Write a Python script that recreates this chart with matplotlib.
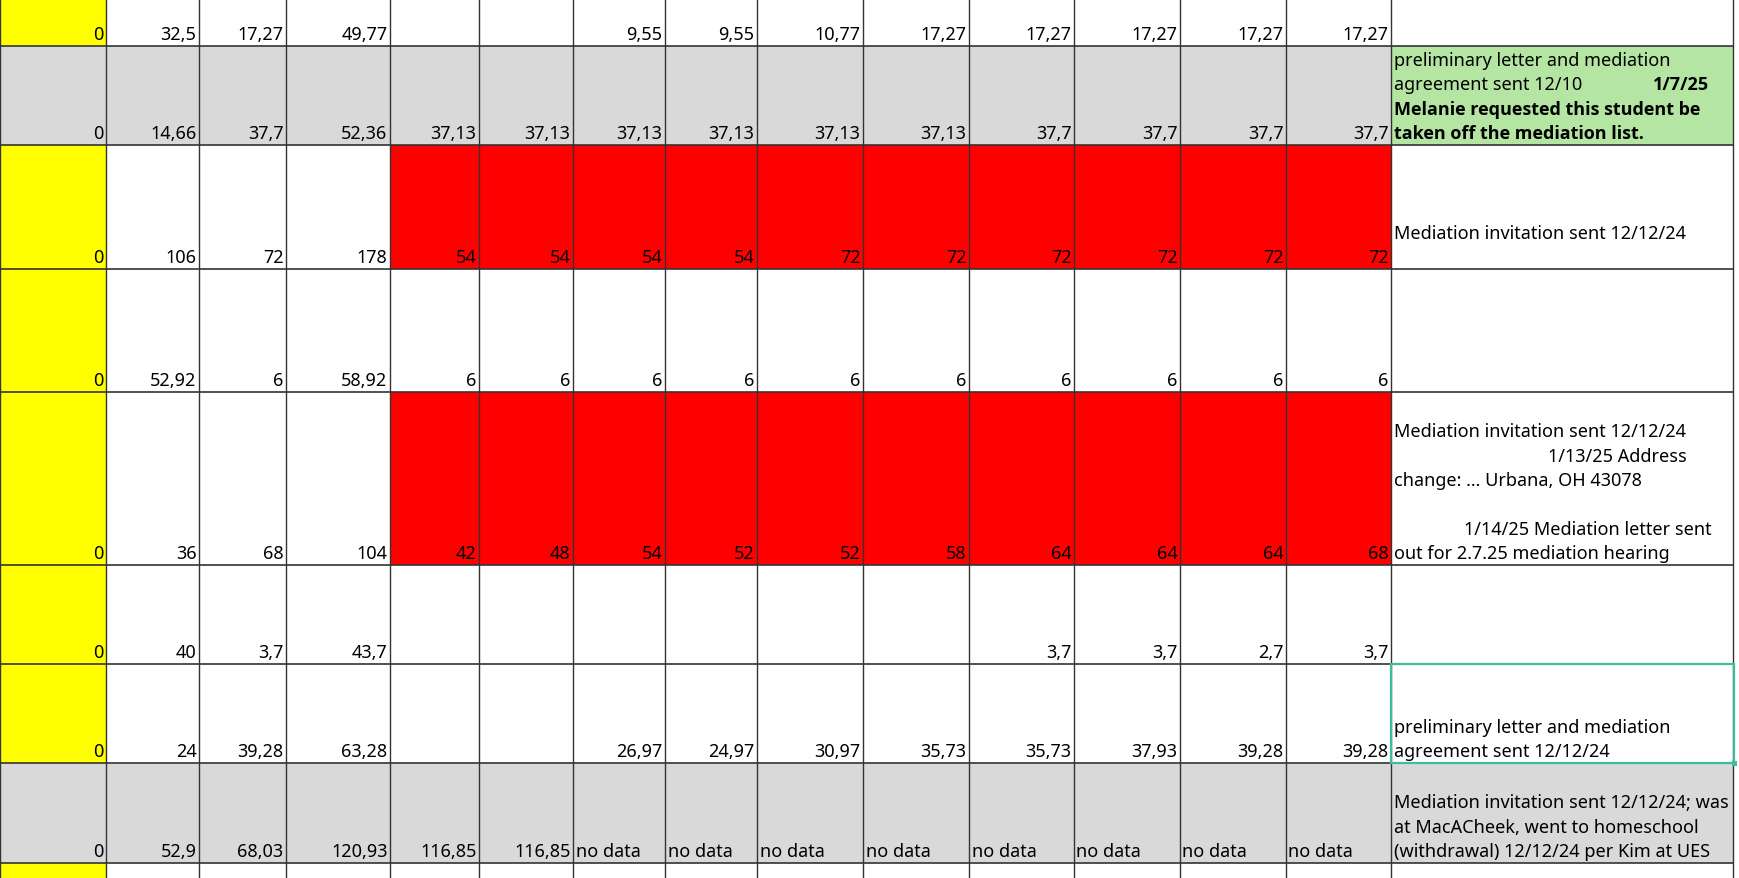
import numpy as np
import matplotlib
matplotlib.use('Agg')
import matplotlib.pyplot as plt
from matplotlib.patches import Rectangle

plt.rcParams['font.family'] = ['Noto Sans', 'DejaVu Sans']

# --- data (one entry per sheet row, last row is the cut-off one) ---
start_vals = ['0', '0', '0', '0', '0', '0', '0', '0', '']
prior_vals = ['32,5', '14,66', '106', '52,92', '36', '40', '24', '52,9', '']
added_vals = ['17,27', '37,7', '72', '6', '68', '3,7', '39,28', '68,03', '']
total_vals = ['49,77', '52,36', '178', '58,92', '104', '43,7', '63,28', '120,93', '']

week_r1 = ['', '', '9,55', '9,55', '10,77', '17,27', '17,27', '17,27', '17,27', '17,27']
week_r2 = ['37,13', '37,13', '37,13', '37,13', '37,13', '37,13', '37,7', '37,7', '37,7', '37,7']
week_r3 = ['54', '54', '54', '54', '72', '72', '72', '72', '72', '72']
week_r4 = ['6', '6', '6', '6', '6', '6', '6', '6', '6', '6']
week_r5 = ['42', '48', '54', '52', '52', '58', '64', '64', '64', '68']
week_r6 = ['', '', '', '', '', '', '3,7', '3,7', '2,7', '3,7']
week_r7 = ['', '', '26,97', '24,97', '30,97', '35,73', '35,73', '37,93', '39,28', '39,28']
week_r8 = ['116,85', '116,85', 'no data', 'no data', 'no data', 'no data',
           'no data', 'no data', 'no data', 'no data']
week_r9 = [''] * 10
weekly = [week_r1, week_r2, week_r3, week_r4, week_r5, week_r6, week_r7, week_r8, week_r9]

# notes: lines listed from top, each line = list of (text, indent px, bold)
notes = [
    [],
    [[('preliminary letter and mediation', 0, False)],
     [('agreement sent 12/10', 0, False), ('1/7/25', 259, True)],
     [('Melanie requested this student be', 0, True)],
     [('taken off the mediation list.', 0, True)]],
    [[('Mediation invitation sent 12/12/24', 0, False)], []],
    [],
    [[('Mediation invitation sent 12/12/24', 0, False)],
     [('1/13/25 Address', 155, False)],
     [('change: ... Urbana, OH 43078', 0, False)],
     [],
     [('1/14/25 Mediation letter sent', 71, False)],
     [('out for 2.7.25 mediation hearing', 0, False)]],
    [],
    [[('preliminary letter and mediation', 0, False)],
     [('agreement sent 12/12/24', 0, False)]],
    [[('Mediation invitation sent 12/12/24; was', 0, False)],
     [('at MacACheek, went to homeschool', 0, False)],
     [('(withdrawal) 12/12/24 per Kim at UES', 0, False)]],
    [],
]

gray_rows = [1, 7]
red_rows = [2, 4]
green_cells = [(1, 14)]
selected_cell = (6, 14)

# --- layout (pixels) ---
col_w = [106, 93, 87, 104, 89, 94, 92, 92, 106, 106, 105, 106, 106, 105, 342, 6]
row_h = [47, 99, 124, 123, 173, 99, 99, 100, 15]
W, H = 1739, 879
xs = np.concatenate([[0], np.cumsum(col_w)])
ys = np.concatenate([[0], np.cumsum(row_h)])

fig = plt.figure(figsize=(W / 100, H / 100), dpi=100)
ax = fig.add_axes([0, 0, 1, 1])
ax.set_xlim(0, W)
ax.set_ylim(H, 0)
ax.axis('off')

# cell fills
for r in range(len(row_h)):
    for c in range(len(col_w)):
        color = 'white'
        if r in gray_rows:
            color = '#d9d9d9'
        elif c == 0:
            color = '#ffff00'
        if r in red_rows and 4 <= c <= 13:
            color = '#ff0000'
        if (r, c) in green_cells:
            color = '#b5e5a2'
        if c == len(col_w) - 1:
            color = 'white'
        ax.add_patch(Rectangle((xs[c], ys[r]), col_w[c], row_h[r],
                               facecolor=color, edgecolor='none', zorder=1))

# grid lines
ax.hlines(ys[1:-1], 0, xs[-2], colors='#333333', linewidth=1.2, zorder=2)
ax.vlines(xs[:-1], 0, H, colors='#333333', linewidth=1.0, zorder=2)

# cell values
fs = 13
for r in range(len(row_h)):
    cells = [start_vals[r], prior_vals[r], added_vals[r], total_vals[r]] + weekly[r]
    base = ys[r + 1] - 7
    for c, val in enumerate(cells):
        if not val:
            continue
        if val[0].isdigit():
            ax.text(xs[c + 1] - 2.5, base, val, ha='right', va='baseline',
                    fontsize=fs, color='black', zorder=3)
        else:
            ax.text(xs[c] + 2.5, base, val, ha='left', va='baseline',
                    fontsize=fs, color='black', zorder=3)

# notes column
line_h = 24.3
for r, lines in enumerate(notes):
    n = len(lines)
    for i, segs in enumerate(lines):
        base = ys[r + 1] - 7 - (n - 1 - i) * line_h
        for text, indent, bold in segs:
            if bold:
                ax.text(xs[14] + 2.5 + indent, base, text, ha='left', va='baseline',
                        fontsize=fs, fontweight='bold', family=['Open Sans', 'DejaVu Sans'],
                        color='black', zorder=3)
            else:
                ax.text(xs[14] + 2.5 + indent, base, text, ha='left', va='baseline',
                        fontsize=fs, color='black', zorder=3)

# selection frame
sr, sc = selected_cell
ax.add_patch(Rectangle((xs[sc], ys[sr]), col_w[sc] + 1, row_h[sr],
                       facecolor='none', edgecolor='#3dbd9e', linewidth=1.6, zorder=4))
ax.add_patch(Rectangle((xs[sc + 1] - 1, ys[sr + 1] - 2), 5, 5,
                       facecolor='#3dbd9e', edgecolor='none', zorder=4))

fig.savefig('out.png', dpi=100)
